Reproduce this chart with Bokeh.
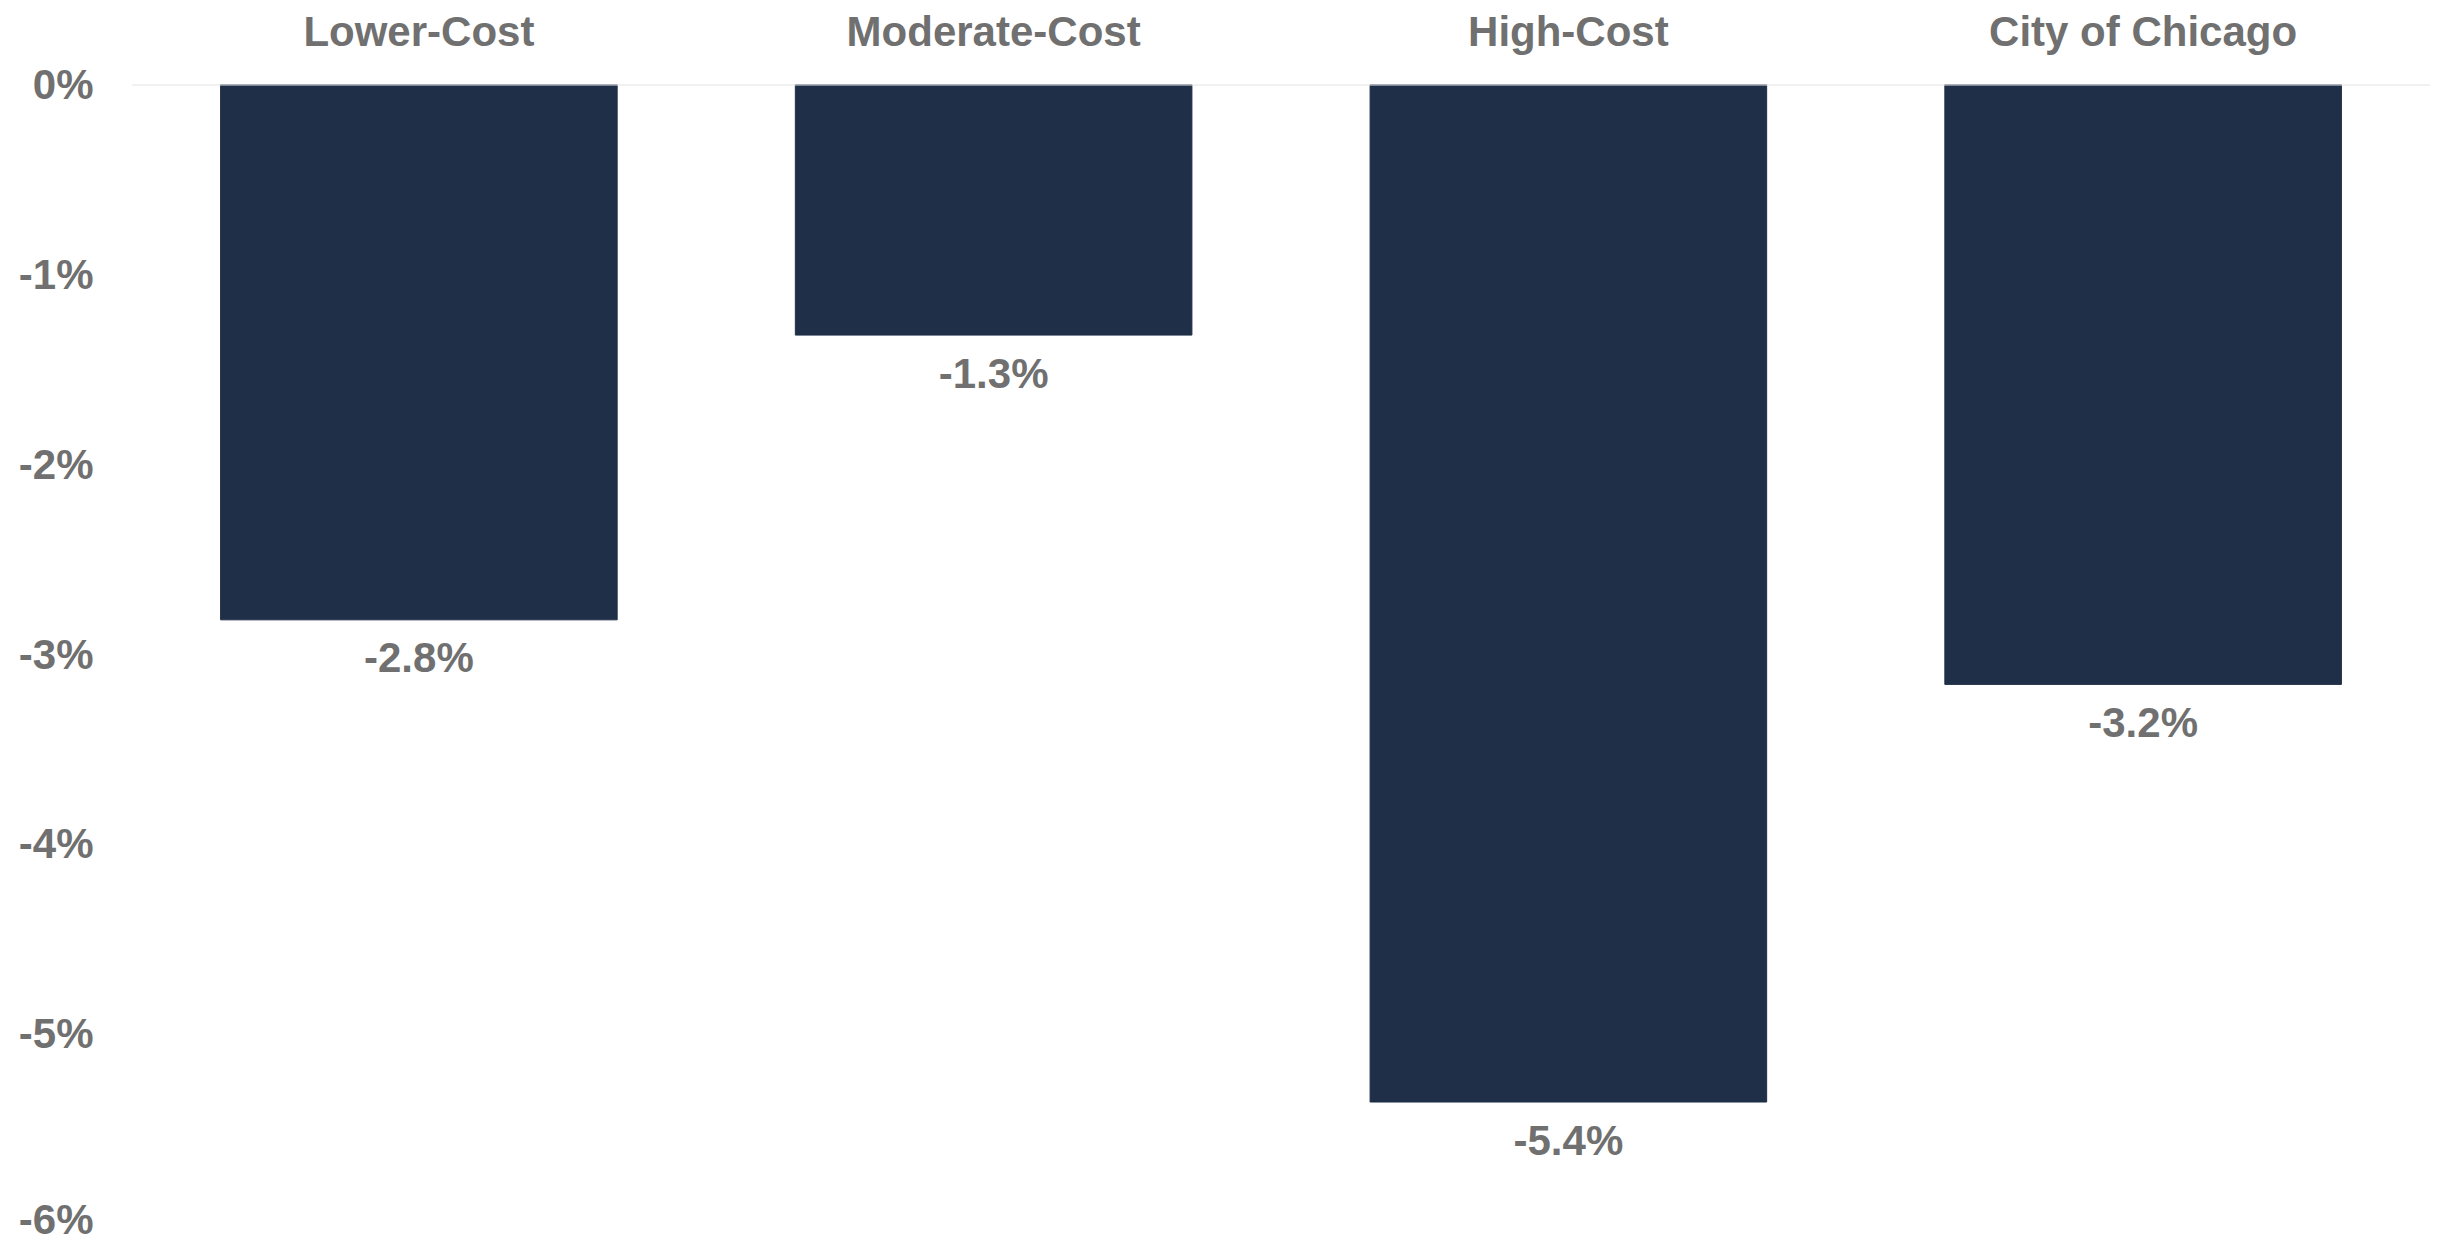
from bokeh.plotting import figure
from bokeh.models import ColumnDataSource, FactorRange, Range1d, FixedTicker, Span
from bokeh.core.properties import value
from bokeh.embed import file_html
from bokeh.resources import INLINE

# ---- data ----
categories = ["Lower-Cost", "Moderate-Cost", "High-Cost", "City of Chicago"]
changes = [-2.82, -1.32, -5.36, -3.16]          # percent change
value_labels = [f"{v:.1f}%" for v in changes]
y_ticks = [0, -1, -2, -3, -4, -5, -6]
y_tick_labels = ["0%", "-1%", "-2%", "-3%", "-4%", "-5%", "-6%"]

BAR = "#202f48"
TXT = "#707070"
FONT = "Liberation Sans"

src = ColumnDataSource(dict(cat=categories, val=changes, lab=value_labels))

p = figure(
    width=2430, height=1242,
    x_range=FactorRange(*categories, range_padding=0),
    y_range=Range1d(-6.1, 0),
    x_axis_location="above",
    output_backend="svg", toolbar_location=None,
    min_border_left=131, min_border_right=0,
    min_border_top=84, min_border_bottom=0,
)
p.outline_line_color = None
p.background_fill_color = "white"
p.border_fill_color = "white"
p.xgrid.grid_line_color = None
p.ygrid.grid_line_color = None

p.vbar(x="cat", top=0, bottom="val", width=0.69, source=src,
       fill_color=BAR, line_color=BAR, line_width=1)

p.add_layout(Span(location=0, dimension="width", line_color="#e3e3e3", line_width=2))

p.text(x="cat", y="val", text="lab", source=src,
       text_font=value(FONT), text_font_style="bold", text_font_size="42px",
       text_color=TXT, text_align="center", text_baseline="middle", y_offset=38)

# x axis (top)
xa = p.xaxis[0]
xa.axis_line_color = None
xa.major_tick_line_color = None
xa.minor_tick_line_color = None
xa.major_tick_out = 0
xa.major_tick_in = 0
xa.major_label_standoff = 30
xa.major_label_text_font = FONT
xa.major_label_text_font_style = "bold"
xa.major_label_text_font_size = "42px"
xa.major_label_text_color = TXT

# y axis
ya = p.yaxis[0]
ya.ticker = FixedTicker(ticks=y_ticks)
ya.major_label_overrides = {t: l for t, l in zip(y_ticks, y_tick_labels)}
ya.axis_line_color = None
ya.major_tick_line_color = None
ya.minor_tick_line_color = None
ya.major_tick_out = 0
ya.major_tick_in = 0
ya.major_label_standoff = 38
ya.major_label_text_font = FONT
ya.major_label_text_font_style = "bold"
ya.major_label_text_font_size = "42px"
ya.major_label_text_color = TXT

open("out.html", "w").write(file_html(p, INLINE))
